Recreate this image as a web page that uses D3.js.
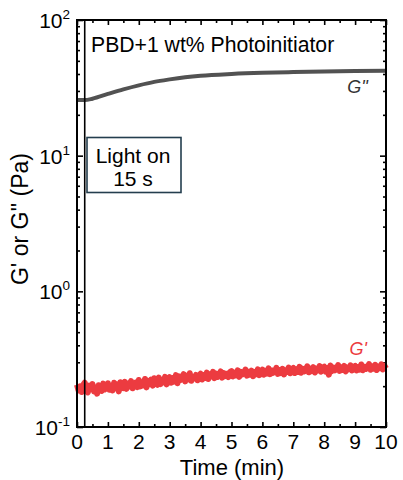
<!DOCTYPE html>
<html><head><meta charset="utf-8">
<script src="https://cdn.jsdelivr.net/npm/d3@7"></script>
<style>body{margin:0;background:#fff}svg{display:block;font-family:"Liberation Sans",Arial,sans-serif}</style>
</head><body><svg id="c" width="403" height="480"></svg>
<script>
// ---- data ----
const gppTime = [0, 0.25, 0.5, 1, 1.5, 2, 2.5, 3, 3.5, 4, 5, 6, 7, 8, 9, 10];
const gppValue = [25.7, 25.7, 26.3, 28.5, 30.8, 33.0, 35.0, 36.5, 37.8, 38.8, 40.0, 40.8, 41.3, 41.7, 42.0, 42.2];
const gpStep = 0.05;
const gpValue = [
0.205,0.186,0.199,0.181,0.204,0.212,0.188,0.180,0.202,0.190,0.207,0.183,0.196,0.176,0.203,0.194,0.185,0.209,0.189,0.199,
0.210,0.188,0.201,0.186,0.212,0.196,0.206,0.183,0.214,0.200,0.194,0.215,0.191,0.208,0.199,0.218,0.193,0.205,0.212,0.197,
0.222,0.199,0.214,0.203,0.226,0.196,0.219,0.208,0.224,0.202,0.229,0.211,0.205,0.231,0.207,0.221,0.213,0.234,0.206,0.224,
0.233,0.212,0.229,0.216,0.241,0.210,0.236,0.222,0.231,0.245,0.217,0.238,0.224,0.249,0.219,0.234,0.228,0.242,0.221,0.240,
0.247,0.224,0.241,0.230,0.252,0.226,0.244,0.236,0.255,0.229,0.248,0.234,0.242,0.257,0.231,0.250,0.237,0.246,0.233,0.254,
0.258,0.236,0.251,0.240,0.262,0.234,0.255,0.244,0.249,0.265,0.239,0.256,0.243,0.260,0.237,0.254,0.246,0.266,0.241,0.257,
0.265,0.243,0.259,0.248,0.271,0.245,0.262,0.251,0.257,0.273,0.246,0.264,0.250,0.268,0.244,0.261,0.255,0.274,0.249,0.266,
0.272,0.250,0.266,0.255,0.278,0.251,0.269,0.257,0.263,0.280,0.253,0.271,0.258,0.276,0.252,0.268,0.262,0.281,0.256,0.273,
0.278,0.256,0.271,0.243,0.284,0.258,0.274,0.262,0.268,0.286,0.259,0.276,0.264,0.282,0.257,0.273,0.267,0.285,0.261,0.277,
0.282,0.261,0.276,0.265,0.289,0.262,0.279,0.268,0.273,0.291,0.264,0.281,0.269,0.287,0.263,0.278,0.272,0.290,0.266,0.283,
0.270];
const xTicks = [0,1,2,3,4,5,6,7,8,9,10];
const yTicks = [0.1, 1, 10, 100];
const yTickExp = ["-1","0","1","2"];
const lightOn = 0.25;
const title = "PBD+1 wt% Photoinitiator";
const boxLines = ["Light on", "15 s"];

// ---- layout ----
const L = 77, T = 20, R = 386, B = 427;
const svg = d3.select("#c");
const x = d3.scaleLinear().domain([0, 10]).range([L, R]);
const y = d3.scaleLog().domain([0.1, 100]).range([B, T]);

const minorX = d3.range(0, 10.01, 0.5).filter(v => v % 1 !== 0);
const minorY = [];
[0.1, 1, 10].forEach(d => { for (let k = 2; k <= 9; k++) minorY.push(d * k); });

function axisStyle(g) {
  g.select(".domain").remove();
  g.selectAll(".tick line").attr("stroke", "#000").attr("stroke-width", 1.6);
  g.selectAll(".tick text").remove();
}
svg.append("g").attr("transform", `translate(0,${B})`).call(d3.axisBottom(x).tickValues(xTicks).tickSize(-5)).call(axisStyle);
svg.append("g").attr("transform", `translate(0,${B})`).call(d3.axisBottom(x).tickValues(minorX).tickSize(-3)).call(axisStyle);
svg.append("g").attr("transform", `translate(0,${T})`).call(d3.axisTop(x).tickValues(xTicks).tickSize(-5)).call(axisStyle);
svg.append("g").attr("transform", `translate(0,${T})`).call(d3.axisTop(x).tickValues(minorX).tickSize(-3)).call(axisStyle);
svg.append("g").attr("transform", `translate(${L},0)`).call(d3.axisLeft(y).tickValues(yTicks).tickSize(-6)).call(axisStyle);
svg.append("g").attr("transform", `translate(${L},0)`).call(d3.axisLeft(y).tickValues(minorY).tickSize(-3)).call(axisStyle);
svg.append("g").attr("transform", `translate(${R},0)`).call(d3.axisRight(y).tickValues(yTicks).tickSize(-6)).call(axisStyle);
svg.append("g").attr("transform", `translate(${R},0)`).call(d3.axisRight(y).tickValues(minorY).tickSize(-3)).call(axisStyle);

// data lines
const gp = gpValue.map((v, i) => [i * gpStep, v]);
svg.append("path").datum(gp)
  .attr("fill", "none").attr("stroke", "#ec3b40").attr("stroke-width", 6).attr("stroke-linejoin", "round")
  .attr("d", d3.line().x(d => x(d[0])).y(d => y(d[1])));
const gpp = gppTime.map((t, i) => [t, gppValue[i]]);
svg.append("path").datum(gpp)
  .attr("fill", "none").attr("stroke", "#525252").attr("stroke-width", 4)
  .attr("d", d3.line().curve(d3.curveMonotoneX).x(d => x(d[0])).y(d => y(d[1])));

// light-on line
svg.append("line").attr("x1", x(lightOn)).attr("x2", x(lightOn)).attr("y1", T).attr("y2", B)
  .attr("stroke", "#000").attr("stroke-width", 1.6);

// frame
svg.append("rect").attr("x", L).attr("y", T).attr("width", R - L).attr("height", B - T)
  .attr("fill", "none").attr("stroke", "#000").attr("stroke-width", 2);

// tick labels
svg.append("g").selectAll("text").data(xTicks).join("text")
  .attr("x", d => x(d)).attr("y", B + 22).attr("text-anchor", "middle")
  .attr("font-size", 21).text(d => d);
const yl = svg.append("g").selectAll("text").data(yTicks).join("text")
  .attr("x", L - 7).attr("y", d => y(d) + 8).attr("text-anchor", "end").attr("font-size", 21);
yl.append("tspan").text("10");
yl.append("tspan").attr("font-size", 13.5).attr("dy", -9).text((d, i) => yTickExp[i]);

// axis titles
svg.append("text").attr("x", 232).attr("y", 475).attr("text-anchor", "middle").attr("font-size", 22).text("Time (min)");
svg.append("text").attr("transform", "translate(28,219) rotate(-90)").attr("text-anchor", "middle")
  .attr("font-size", 23).text("G' or G'' (Pa)");

// title
svg.append("text").attr("x", 91).attr("y", 52).attr("font-size", 21.2).text(title);

// box
svg.append("rect").attr("x", 87).attr("y", 137.5).attr("width", 94).attr("height", 55)
  .attr("fill", "#fff").attr("stroke", "#243e4e").attr("stroke-width", 1.6);
svg.append("g").selectAll("text").data(boxLines).join("text")
  .attr("x", 133).attr("y", (d, i) => 163 + i * 23).attr("text-anchor", "middle")
  .attr("font-size", 21).text(d => d);

// series labels
svg.append("text").attr("x", 368).attr("y", 93).attr("text-anchor", "end").attr("font-style", "italic")
  .attr("font-size", 18).attr("fill", "#333").text("G''");
svg.append("text").attr("x", 367).attr("y", 355).attr("text-anchor", "end").attr("font-style", "italic")
  .attr("font-size", 18).attr("fill", "#ec3b40").text("G'");
</script></body></html>
